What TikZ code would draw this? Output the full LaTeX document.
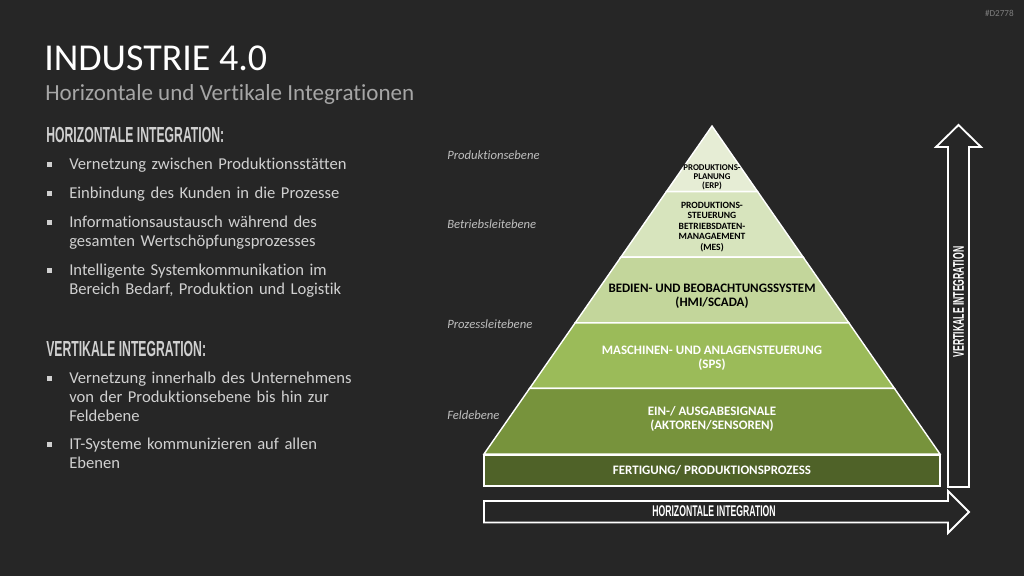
\documentclass[tikz,border=0pt]{standalone}
\usepackage{fontspec}
\setmainfont{Carlito}[Ligatures=NoCommon]
\newfontfamily\headfont{Liberation Sans}[FakeStretch=0.56]
\usepackage{tikz}
\usetikzlibrary{positioning}

\definecolor{bgdark}{HTML}{262626}
\definecolor{subgray}{HTML}{A6A6A6}
\definecolor{txtgray}{HTML}{D0D0D0}
\definecolor{lvlgray}{HTML}{BFBFBF}
\definecolor{idgray}{HTML}{7F7F7F}
\definecolor{erpgreen}{HTML}{E6EDD5}
\definecolor{mesgreen}{HTML}{D7E4BD}
\definecolor{hmigreen}{HTML}{C3D69B}
\definecolor{spsgreen}{HTML}{9BBB59}
\definecolor{eagreen}{HTML}{77933C}
\definecolor{basegreen}{HTML}{4F6228}

\begin{document}
\begin{tikzpicture}[
  x=0.025cm,y=-0.025cm,
  layer/.style={draw=white, line width=1pt, line join=miter},
  lbl/.style={align=center, font=\bfseries\fontsize{9.2}{10.2}\selectfont, inner sep=0pt},
  small/.style={align=center, font=\bfseries\fontsize{6.3}{6.4}\selectfont, inner sep=0pt},
  bigarrow/.style={draw=white, line width=1.3pt, line join=miter},
  arrowtext/.style={text=white, font=\headfont\bfseries\fontsize{11}{12}\selectfont, inner sep=0pt},
  head/.style={anchor=west, text=txtgray, font=\headfont\bfseries\fontsize{15.5}{16}\selectfont, inner sep=0pt},
  item/.style={anchor=north west, text=txtgray, align=left, text width=8.2cm, font=\fontsize{11.8}{13.5}\selectfont, inner sep=0pt},
  dot/.style={fill=txtgray, draw=none},
  level/.style={anchor=west, text=lvlgray, font=\itshape\fontsize{9}{10}\selectfont, inner sep=0pt}
]

% background
\fill[bgdark] (0,0) rectangle (1024,576);
\useasboundingbox (0,0) rectangle (1024,576);

% title
\node[anchor=base west, text=white, font=\fontsize{27}{30}\selectfont, inner sep=0pt] (title) at (44,71) {INDUSTRIE 4.0};
\node[anchor=base west, text=subgray, font=\fontsize{16.4}{18}\selectfont, inner sep=0pt] (subtitle) at (45,101) {Horizontale und Vertikale Integrationen};
\node[anchor=east, text=idgray, font=\fontsize{6.5}{7}\selectfont, inner sep=0pt] (docid) at (1014,13) {\#D2778};

% horizontal integration text
\node[head] (hhead) at (46,135) {HORIZONTALE INTEGRATION:};
\node[item] (h1) at (69,158) {Vernetzung zwischen Produktionsstätten};
\node[item] (h2) at (69,187) {Einbindung des Kunden in die Prozesse};
\node[item] (h3) at (69,216) {Informationsaustausch während des\\gesamten Wertschöpfungsprozesses};
\node[item] (h4) at (69,264) {Intelligente Systemkommunikation im\\Bereich Bedarf, Produktion und Logistik};
\fill[dot] (47,162) rectangle (52,167);
\fill[dot] (47,191) rectangle (52,196);
\fill[dot] (47,220) rectangle (52,225);
\fill[dot] (47,268) rectangle (52,273);

% vertical integration text
\node[head] (vhead) at (46,349) {VERTIKALE INTEGRATION:};
\node[item] (v1) at (69,372) {Vernetzung innerhalb des Unternehmens\\von der Produktionsebene bis hin zur\\Feldebene};
\node[item] (v2) at (69,438) {IT-Systeme kommunizieren auf allen\\Ebenen};
\fill[dot] (47,376) rectangle (52,381);
\fill[dot] (47,442) rectangle (52,447);

% level names
\node[level] (lprod) at (447,155) {Produktionsebene};
\node[level] (lbetr) at (447,224) {Betriebsleitebene};
\node[level] (lproz) at (447,324) {Prozessleitebene};
\node[level] (lfeld) at (447,415) {Feldebene};

% pyramid
\filldraw[layer, fill=erpgreen] (712,126) -- (757.6,191.6) -- (666.4,191.6) -- cycle;
\filldraw[layer, fill=mesgreen] (666.4,191.6) -- (757.6,191.6) -- (803.2,257.2) -- (620.8,257.2) -- cycle;
\filldraw[layer, fill=hmigreen] (620.8,257.2) -- (803.2,257.2) -- (848.8,322.8) -- (575.2,322.8) -- cycle;
\filldraw[layer, fill=spsgreen] (575.2,322.8) -- (848.8,322.8) -- (894.4,388.4) -- (529.6,388.4) -- cycle;
\filldraw[layer, fill=eagreen] (529.6,388.4) -- (894.4,388.4) -- (940,454) -- (484,454) -- cycle;
\filldraw[layer, fill=basegreen] (484,455) rectangle (940,486);

\node[small, text=black] (erp) at (712,177) {PRODUKTIONS-\\PLANUNG\\(ERP)};
\node[small, text=black, font=\bfseries\fontsize{6.8}{7.5}\selectfont] (mes) at (712,227) {PRODUKTIONS-\\STEUERUNG\\BETRIEBSDATEN-\\MANAGAEMENT\\(MES)};
\node[lbl, text=black] (hmi) at (712,296) {BEDIEN- UND BEOBACHTUNGSSYSTEM\\(HMI/SCADA)};
\node[lbl, text=white] (sps) at (712,358) {MASCHINEN- UND ANLAGENSTEUERUNG\\(SPS)};
\node[lbl, text=white] (ea) at (712,419) {EIN-/ AUSGABESIGNALE\\(AKTOREN/SENSOREN)};
\node[lbl, text=white] (fert) at (712,470) {FERTIGUNG/ PRODUKTIONSPROZESS};

% integration arrows
\draw[bigarrow] (948,487) -- (948,147) -- (936,147) -- (958.5,125) -- (981,147) -- (969,147) -- (969,487) -- cycle;
\node[arrowtext, rotate=90] (vint) at (958.5,302) {VERTIKALE INTEGRATION};

\draw[bigarrow] (484,501) -- (948,501) -- (948,491) -- (969,512) -- (948,533) -- (948,522.5) -- (484,522.5) -- cycle;
\node[arrowtext] (hint) at (714,511.5) {HORIZONTALE INTEGRATION};

\end{tikzpicture}
\end{document}
